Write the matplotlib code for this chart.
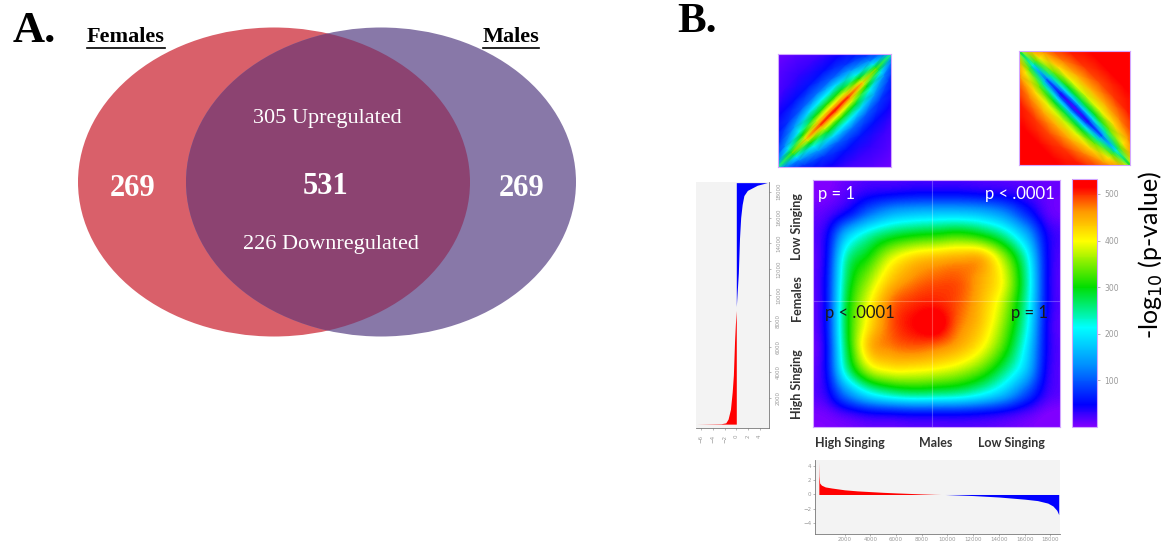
import numpy as np
import matplotlib
matplotlib.use('Agg')
import matplotlib.pyplot as plt
from matplotlib.patches import Ellipse
from matplotlib.lines import Line2D
from matplotlib.colors import LinearSegmentedColormap

# ---- data ----
venn_labels = ['Females', 'Males']
venn_counts = [269, 531, 269]      # females only, shared, males only
shared_up = 305
shared_down = 226

# RRHO map, -log10 p read on an 11x11 grid (top row first)
heat_grid = np.array([
    [0,   15,  30,  35,  40,  40,  40,  35,  30,  20,  10],
    [15,  50,  110, 150, 165, 170, 170, 160, 130, 70,  15],
    [35,  170, 240, 280, 300, 310, 320, 300, 250, 160, 40],
    [40,  240, 310, 385, 425, 440, 450, 445, 360, 230, 45],
    [45,  265, 360, 435, 470, 485, 485, 450, 390, 250, 45],
    [45,  280, 395, 475, 500, 505, 485, 440, 370, 240, 45],
    [45,  285, 415, 485, 515, 530, 475, 430, 350, 225, 40],
    [40,  275, 435, 470, 480, 470, 445, 400, 320, 200, 40],
    [40,  240, 365, 400, 400, 390, 370, 330, 260, 170, 35],
    [30,  130, 210, 250, 265, 260, 250, 220, 170, 95,  25],
    [5,   20,  35,  40,  45,  45,  45,  40,  30,  15,  0],
])

# expected patterns (small maps above): value profile across the diagonal,
# one row per position along the diagonal (corner -> centre), mirrored
thumb_along = [0.0, 0.125, 0.25, 0.375, 0.5]
thumb_across = [0.0, 0.02, 0.05, 0.09, 0.15, 0.22, 0.32, 0.45, 0.72]
thumb_same = np.array([
    [240, 150, 90,  60,  40,  30,  20,  10, 0],
    [330, 280, 200, 130, 80,  50,  30,  15, 0],
    [430, 380, 300, 220, 140, 80,  45,  20, 5],
    [500, 450, 380, 290, 190, 105, 55,  25, 5],
    [532, 470, 400, 310, 210, 115, 60,  30, 5],
])
thumb_opp = np.array([
    [300, 380, 440, 480, 500, 515, 525, 530, 532],
    [200, 260, 340, 410, 460, 495, 515, 530, 532],
    [100, 160, 250, 340, 420, 470, 505, 525, 532],
    [40,  100, 190, 290, 390, 450, 495, 520, 532],
    [15,  80,  170, 280, 380, 445, 490, 520, 532],
])

# ranked fold changes, males (bottom) and females (left)
males_rank_up = [0, 20, 60, 200, 500, 1000, 2000, 3000, 4000, 5000, 6000, 7000, 8000, 9000, 9500]
males_fc_up = [4.6, 2.6, 1.6, 1.3, 1.05, 0.9, 0.65, 0.5, 0.4, 0.3, 0.22, 0.15, 0.08, 0.02, 0.0]
males_rank_dn = [9800, 10500, 12000, 13000, 14000, 15000, 16000, 17000, 17800, 18200, 18500, 18650]
males_fc_dn = [0.0, -0.05, -0.15, -0.25, -0.35, -0.5, -0.65, -0.85, -1.2, -1.6, -2.2, -2.8]

fem_rank_dn = [0, 30, 100, 400, 1150, 2500, 3800, 6400, 7800, 8800]
fem_fc_dn = [-6.8, -2.6, -1.8, -1.4, -1.0, -0.7, -0.5, -0.3, -0.15, 0.0]
fem_rank_up = [9100, 11700, 14400, 16000, 17000, 17700, 18100, 18500, 18700]
fem_fc_up = [0.0, 0.35, 0.55, 0.75, 1.0, 1.3, 1.9, 3.6, 5.3]

rank_ticks = [2000, 4000, 6000, 8000, 10000, 12000, 14000, 16000, 18000]
cbar_ticks = [100, 200, 300, 400, 500]

# ---- figure ----
W, H = 1163, 542
fig = plt.figure(figsize=(W / 100, H / 100), dpi=100)


def px_axes(x0, y0, x1, y1):
    return fig.add_axes([x0 / W, 1 - y1 / H, (x1 - x0) / W, (y1 - y0) / H])


serif = 'Liberation Serif'
sans = 'Lato'

# panel A: venn
ax = px_axes(0, 0, 640, 542)
ax.set_xlim(0, 640)
ax.set_ylim(542, 0)
ax.axis('off')

left = Ellipse((274, 182), 392, 309, color='#d9606a', lw=0)
right = Ellipse((381, 182), 390, 309, color='#8878a8', lw=0)
both = Ellipse((381, 182), 390, 309, color='#8c4371', lw=0)
ax.add_patch(left)
ax.add_patch(right)
ax.add_patch(both)
both.set_clip_path(left)

ax.text(13, 42, 'A.', fontsize=32, fontweight='bold', family=serif, va='baseline')
t_f = ax.text(126, 37, venn_labels[0], fontsize=16, fontweight='bold', family=serif,
              ha='center', va='center')
t_m = ax.text(511, 37, venn_labels[1], fontsize=16, fontweight='bold', family=serif,
              ha='center', va='center')

ax.text(133, 188, str(venn_counts[0]), fontsize=22, fontweight='bold', family=serif,
        color='white', ha='center', va='center')
ax.text(326, 187, str(venn_counts[1]), fontsize=22, fontweight='bold', family=serif,
        color='white', ha='center', va='center')
ax.text(522, 188, str(venn_counts[2]), fontsize=22, fontweight='bold', family=serif,
        color='white', ha='center', va='center')
ax.text(327, 118, '%d Upregulated' % shared_up, fontsize=16, family=serif,
        color='white', ha='center', va='center')
ax.text(331, 244, '%d Downregulated' % shared_down, fontsize=16, family=serif,
        color='white', ha='center', va='center')

# panel B
fig.text(677 / W, 1 - 32 / H, 'B.', fontsize=31, fontweight='bold', family=serif,
         va='baseline')

cmap = LinearSegmentedColormap.from_list('rrho', [
    (0.0, '#8000ff'), (0.09, '#0000ff'), (0.25, '#0090ff'), (0.40, '#00ffff'),
    (0.565, '#00dd00'), (0.75, '#ffff00'), (0.87, '#ff9900'), (0.97, '#ff0000'),
    (1.0, '#ff0000')])
vmax = 532
edge = '#d2a6ff'


def full_profile(table):
    rows = np.vstack([table, table[-2::-1]])
    return np.hstack([rows[:, :0:-1], rows])


s_full = np.concatenate([thumb_along, 1 - np.array(thumb_along[-2::-1])])
d_full = np.concatenate([-np.array(thumb_across[:0:-1]), thumb_across])
S, D = np.meshgrid(s_full, d_full, indexing='ij')
r2 = np.sqrt(2)

for table, box, rising in [(thumb_same, (778, 54, 891, 167), True),
                           (thumb_opp, (1019, 51, 1130, 165), False)]:
    a = px_axes(*box)
    if rising:
        X, Y = S - D / r2, S + D / r2
    else:
        X, Y = S + D / r2, 1 - S + D / r2
    a.pcolormesh(X, Y, full_profile(table), shading='gouraud', cmap=cmap, vmin=0, vmax=vmax)
    a.set_xlim(0, 1)
    a.set_ylim(0, 1)
    a.set_xticks([])
    a.set_yticks([])
    for s in a.spines.values():
        s.set_color(edge)

# main heatmap
ah = px_axes(813, 180, 1060, 427)
im = ah.imshow(heat_grid, cmap=cmap, vmin=0, vmax=vmax, interpolation='catrom',
               extent=[0, 1, 0, 1], aspect='auto')
ah.axvline(0.48, color='white', alpha=0.25, lw=0.8)
ah.axhline(0.51, color='white', alpha=0.25, lw=0.8)
ah.set_xticks([])
ah.set_yticks([])
for s in ah.spines.values():
    s.set_color(edge)
ah.text(0.02, 0.945, 'p = 1', color='white', fontsize=12, family=sans,
        transform=ah.transAxes, va='center')
ah.text(0.98, 0.945, 'p < .0001', color='white', fontsize=12, family=sans,
        transform=ah.transAxes, va='center', ha='right')
ah.text(0.05, 0.46, 'p < .0001', color='#1a1a1a', fontsize=12, family=sans,
        transform=ah.transAxes, va='center')
ah.text(0.95, 0.46, 'p = 1', color='#1a1a1a', fontsize=12, family=sans,
        transform=ah.transAxes, va='center', ha='right')

for lab, xf in [('High Singing', 0.15), ('Males', 0.495), ('Low Singing', 0.805)]:
    ah.text(xf, -0.04, lab, fontsize=9, fontweight='bold', family=sans, color='#333333',
            transform=ah.transAxes, ha='center', va='top')
for lab, yf in [('Low Singing', 0.81), ('Females', 0.52), ('High Singing', 0.175)]:
    ah.text(-0.04, yf, lab, fontsize=9, fontweight='bold', family=sans, color='#333333',
            transform=ah.transAxes, ha='right', va='center', rotation=90)

# colorbar
cax = px_axes(1072, 179, 1097, 427)
cb = fig.colorbar(im, cax=cax, ticks=cbar_ticks)
cb.outline.set_edgecolor(edge)
cax.tick_params(labelsize=5.5, colors='#999999', length=2, width=0.5)
fig.text(1151 / W, 1 - 255 / H, '-log$_{10}$ (p-value)', fontsize=18, family=sans,
         rotation=90, ha='center', va='center')

bg = '#f3f3f3'
# females ranked list (left)
al = px_axes(696, 182, 769, 428)
al.set_facecolor(bg)
al.fill_betweenx(fem_rank_dn, 0, fem_fc_dn, color='#ff0000', lw=0)
al.fill_betweenx(fem_rank_up, 0, fem_fc_up, color='#0000ff', lw=0)
al.set_xlim(-6.9, 5.6)
al.set_ylim(-300, 18750)
al.set_xticks([-6, -4, -2, 0, 2, 4])
al.set_yticks(rank_ticks)
al.yaxis.tick_right()
al.tick_params(labelsize=4, colors='#999999', length=1.5, width=0.5)
plt.setp(al.get_xticklabels(), rotation=90)
plt.setp(al.get_yticklabels(), rotation=90, va='center')
for k in ['top', 'left']:
    al.spines[k].set_visible(False)
for k in ['bottom', 'right']:
    al.spines[k].set_color('#777777')
    al.spines[k].set_linewidth(0.6)

# males ranked list (bottom)
ab = px_axes(815, 460, 1060, 534)
ab.set_facecolor(bg)
ab.fill_between(males_rank_up, 0, males_fc_up, color='#ff0000', lw=0)
ab.fill_between(males_rank_dn, 0, males_fc_dn, color='#0000ff', lw=0)
ab.set_xlim(-300, 18750)
ab.set_ylim(-5.5, 4.8)
ab.set_xticks(rank_ticks)
ab.set_yticks([-4, -2, 0, 2, 4])
ab.tick_params(labelsize=4, colors='#999999', length=1.5, width=0.5, pad=1)
for k in ['top', 'right']:
    ab.spines[k].set_visible(False)
for k in ['bottom', 'left']:
    ab.spines[k].set_color('#777777')
    ab.spines[k].set_linewidth(0.6)

# underline the set names
fig.canvas.draw()
for t in (t_f, t_m):
    bb = t.get_window_extent()
    fig.add_artist(Line2D([bb.x0 / W, bb.x1 / W], [(bb.y0 - 1) / H, (bb.y0 - 1) / H],
                          color='black', lw=1.2, transform=fig.transFigure))

fig.savefig('out.png', dpi=100)
